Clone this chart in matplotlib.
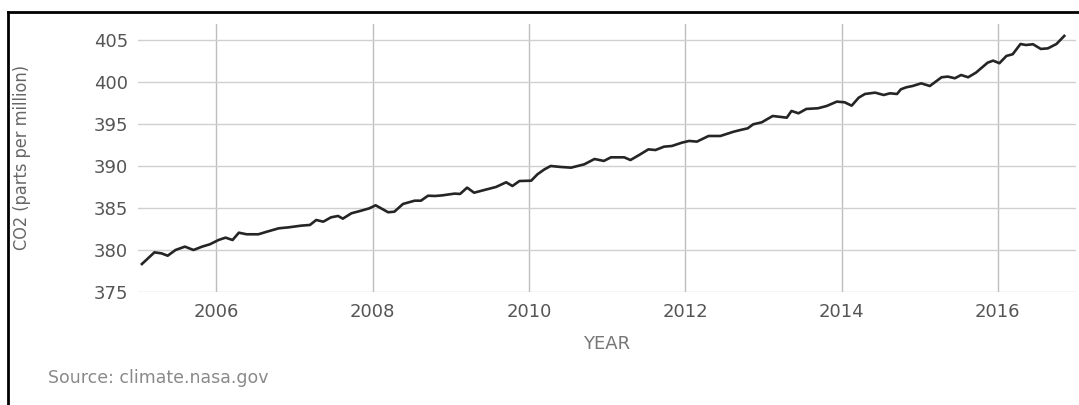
import matplotlib.pyplot as plt
from matplotlib.lines import Line2D

# monthly-ish readings
years = [2005.05, 2005.21, 2005.30, 2005.38, 2005.48, 2005.60, 2005.71, 2005.82, 2005.92,
         2006.03, 2006.12, 2006.21, 2006.29, 2006.39, 2006.54, 2006.65, 2006.80, 2006.93,
         2007.09, 2007.20, 2007.28, 2007.37, 2007.47, 2007.56, 2007.62, 2007.73, 2007.84,
         2007.96, 2008.04, 2008.11, 2008.20, 2008.28, 2008.39, 2008.54, 2008.62, 2008.71,
         2008.80, 2008.89, 2009.05, 2009.12, 2009.21, 2009.30, 2009.43, 2009.58, 2009.71,
         2009.79, 2009.88, 2010.03, 2010.11, 2010.20, 2010.28, 2010.41, 2010.54, 2010.71,
         2010.84, 2010.96, 2011.05, 2011.22, 2011.30, 2011.41, 2011.53, 2011.62, 2011.73,
         2011.83, 2011.96, 2012.05, 2012.15, 2012.30, 2012.45, 2012.62, 2012.71, 2012.80,
         2012.87, 2012.98, 2013.12, 2013.30, 2013.36, 2013.45, 2013.55, 2013.70, 2013.81,
         2013.94, 2014.04, 2014.13, 2014.22, 2014.30, 2014.43, 2014.54, 2014.62, 2014.71,
         2014.76, 2014.83, 2014.91, 2015.02, 2015.13, 2015.28, 2015.36, 2015.45, 2015.53,
         2015.62, 2015.72, 2015.87, 2015.94, 2016.02, 2016.11, 2016.19, 2016.29, 2016.36,
         2016.45, 2016.55, 2016.64, 2016.75, 2016.85]
co2 = [378.33, 379.72, 379.60, 379.32, 380.00, 380.40, 380.00, 380.40, 380.68,
       381.19, 381.47, 381.19, 382.06, 381.87, 381.87, 382.18, 382.58, 382.70,
       382.90, 382.98, 383.57, 383.37, 383.89, 384.05, 383.73, 384.37, 384.64,
       384.96, 385.32, 384.96, 384.49, 384.56, 385.48, 385.87, 385.87, 386.46,
       386.43, 386.50, 386.71, 386.67, 387.42, 386.82, 387.14, 387.50, 388.06,
       387.62, 388.21, 388.25, 389.01, 389.60, 390.00, 389.88, 389.80, 390.20,
       390.83, 390.60, 391.03, 391.03, 390.71, 391.30, 391.98, 391.90, 392.30,
       392.38, 392.78, 392.98, 392.90, 393.57, 393.57, 394.08, 394.29, 394.48,
       394.96, 395.20, 395.95, 395.75, 396.55, 396.27, 396.79, 396.87, 397.14,
       397.66, 397.58, 397.18, 398.13, 398.57, 398.73, 398.45, 398.65, 398.57,
       399.13, 399.37, 399.52, 399.84, 399.52, 400.56, 400.64, 400.44, 400.83,
       400.56, 401.11, 402.30, 402.54, 402.23, 403.10, 403.30, 404.52, 404.40,
       404.49, 403.93, 404.00, 404.52, 405.48]

xticks = [2006, 2008, 2010, 2012, 2014, 2016]
yticks = [375, 380, 385, 390, 395, 400, 405]

fig = plt.figure(figsize=(10.79, 4.05), dpi=100)
ax = fig.add_axes([138/1079, 1-292/405, (1076-138)/1079, (292-24)/405])

ax.plot(years, co2, color='#252525', linewidth=1.9, solid_joinstyle='round')

ax.set_xlim(2005, 2017)
ax.set_ylim(375, 406.9)
ax.set_xticks(xticks)
ax.set_yticks(yticks)
ax.tick_params(length=0, labelsize=13, labelcolor='#555555')
ax.tick_params(axis='y', pad=7)
ax.tick_params(axis='x', pad=8)
ax.grid(axis='y', color='#d0d0d0', linewidth=1)
ax.grid(axis='x', color='#bdbdbd', linewidth=1)
for s in ax.spines.values():
    s.set_visible(False)
ax.set_axisbelow(True)

ax.set_xlabel('YEAR', fontsize=13, color='#777777', labelpad=10)
fig.text(22/1079, 1-157/405, 'CO2 (parts per million)', rotation=90,
         ha='center', va='center', fontsize=13, color='#666666',
         family=['Liberation Sans Narrow', 'DejaVu Sans Condensed', 'DejaVu Sans'],
         fontstretch='condensed')
fig.text(48/1079, 1-378/405, 'Source: climate.nasa.gov', ha='left', va='center',
         fontsize=12.5, color='#8a8a8a')

# black frame lines at top and left of the picture
fig.add_artist(Line2D([8/1079, 1], [1-12/405, 1-12/405], color='black', linewidth=2))
fig.add_artist(Line2D([8/1079, 8/1079], [0, 1-12/405], color='black', linewidth=2))

fig.savefig('out.png', dpi=100)
